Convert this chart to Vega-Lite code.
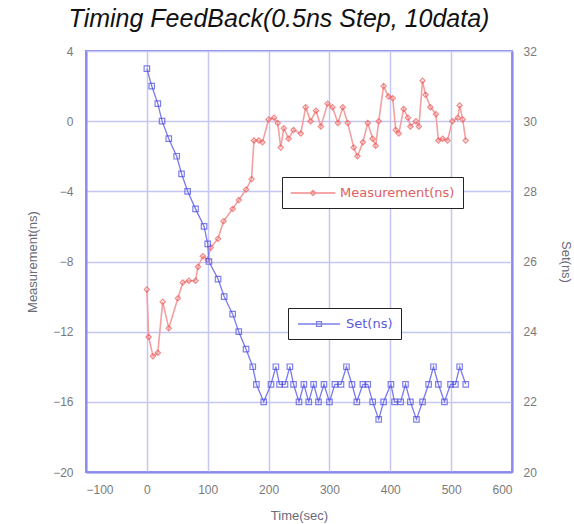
{
  "$schema": "https://vega.github.io/schema/vega-lite/v6.json",
  "width": 426,
  "height": 421,
  "autosize": {"type": "none"},
  "padding": {"left": 86, "top": 51, "right": 62, "bottom": 52},
  "background": "white",
  "title": {
    "text": "Timing FeedBack(0.5ns Step, 10data)",
    "font": "Liberation Sans",
    "fontSize": 25,
    "fontStyle": "italic",
    "fontWeight": "normal",
    "color": "#111111",
    "anchor": "middle",
    "offset": 13,
    "dx": -20
  },
  "config": {
    "view": {"stroke": "#8a8aee", "strokeWidth": 2},
    "axis": {
      "labelFont": "Liberation Sans",
      "labelFontSize": 12,
      "labelColor": "#7a7a7a",
      "titleFont": "Liberation Sans",
      "titleFontSize": 13,
      "titleFontWeight": "normal",
      "titleColor": "#6a6a7a",
      "domainColor": "#8a8aee",
      "domainWidth": 2,
      "ticks": false,
      "gridColor": "#c6c6f2",
      "gridWidth": 1.5
    }
  },
  "datasets": {
    "meas": [
      {"t": 0, "v": -9.6}, {"t": 3, "v": -12.3}, {"t": 10, "v": -13.4}, {"t": 18, "v": -13.2},
      {"t": 26, "v": -10.3}, {"t": 36, "v": -11.8}, {"t": 51, "v": -10.1}, {"t": 59, "v": -9.2},
      {"t": 69, "v": -9.1}, {"t": 80, "v": -9.1}, {"t": 84, "v": -8.3}, {"t": 92, "v": -7.7},
      {"t": 100, "v": -7.9}, {"t": 105, "v": -7.2}, {"t": 117, "v": -6.7}, {"t": 126, "v": -5.7},
      {"t": 141, "v": -5.0}, {"t": 151, "v": -4.5}, {"t": 163, "v": -3.9}, {"t": 172, "v": -3.3},
      {"t": 176, "v": -1.1}, {"t": 184, "v": -1.1}, {"t": 190, "v": -1.2}, {"t": 200, "v": 0.1},
      {"t": 209, "v": 0.2}, {"t": 215, "v": -0.1}, {"t": 220, "v": -1.5}, {"t": 225, "v": -0.4},
      {"t": 233, "v": -1.0}, {"t": 241, "v": -0.5}, {"t": 253, "v": -0.7}, {"t": 261, "v": 0.8},
      {"t": 269, "v": 0.0}, {"t": 278, "v": 0.6}, {"t": 286, "v": -0.3}, {"t": 297, "v": 1.0},
      {"t": 305, "v": 0.8}, {"t": 314, "v": -0.1}, {"t": 322, "v": 0.8}, {"t": 330, "v": -0.1},
      {"t": 340, "v": -1.5}, {"t": 346, "v": -2.0}, {"t": 355, "v": -1.2}, {"t": 363, "v": -0.1},
      {"t": 371, "v": -1.0}, {"t": 376, "v": -1.4}, {"t": 381, "v": 0.0}, {"t": 389, "v": 2.0},
      {"t": 397, "v": 1.4}, {"t": 404, "v": 1.3}, {"t": 409, "v": -0.5}, {"t": 414, "v": -0.7},
      {"t": 422, "v": 0.7}, {"t": 429, "v": 0.2}, {"t": 433, "v": -0.3}, {"t": 442, "v": 0.0},
      {"t": 447, "v": -0.3}, {"t": 453, "v": 2.3}, {"t": 458, "v": 1.5}, {"t": 466, "v": 0.8},
      {"t": 475, "v": 0.4}, {"t": 479, "v": -1.1}, {"t": 486, "v": -1.0}, {"t": 494, "v": -1.1},
      {"t": 502, "v": 0.0}, {"t": 511, "v": 0.2}, {"t": 514, "v": 0.9}, {"t": 519, "v": 0.1},
      {"t": 524, "v": -1.1}
    ],
    "set": [
      {"t": 0, "s": 31.5}, {"t": 8, "s": 31.0}, {"t": 18, "s": 30.5}, {"t": 25, "s": 30.0},
      {"t": 36, "s": 29.5}, {"t": 49, "s": 29.0}, {"t": 57, "s": 28.5}, {"t": 67, "s": 28.0},
      {"t": 80, "s": 27.5}, {"t": 94, "s": 27.0}, {"t": 100, "s": 26.5}, {"t": 102, "s": 26.0},
      {"t": 117, "s": 25.5}, {"t": 127, "s": 25.0}, {"t": 141, "s": 24.5}, {"t": 151, "s": 24.0},
      {"t": 163, "s": 23.5}, {"t": 174, "s": 23.0}, {"t": 180, "s": 22.5}, {"t": 192, "s": 22.0},
      {"t": 204, "s": 22.5}, {"t": 212, "s": 23.0}, {"t": 218, "s": 22.5}, {"t": 227, "s": 22.5},
      {"t": 235, "s": 23.0}, {"t": 241, "s": 22.5}, {"t": 250, "s": 22.0}, {"t": 258, "s": 22.5},
      {"t": 266, "s": 22.0}, {"t": 274, "s": 22.5}, {"t": 282, "s": 22.0}, {"t": 291, "s": 22.5},
      {"t": 300, "s": 22.0}, {"t": 309, "s": 22.5}, {"t": 319, "s": 22.5}, {"t": 328, "s": 23.0},
      {"t": 337, "s": 22.5}, {"t": 345, "s": 22.0}, {"t": 355, "s": 22.5}, {"t": 363, "s": 22.5},
      {"t": 371, "s": 22.0}, {"t": 381, "s": 21.5}, {"t": 389, "s": 22.0}, {"t": 401, "s": 22.5},
      {"t": 407, "s": 22.0}, {"t": 417, "s": 22.0}, {"t": 425, "s": 22.5}, {"t": 433, "s": 22.0},
      {"t": 443, "s": 21.5}, {"t": 453, "s": 22.0}, {"t": 463, "s": 22.5}, {"t": 471, "s": 23.0},
      {"t": 479, "s": 22.5}, {"t": 489, "s": 22.0}, {"t": 499, "s": 22.5}, {"t": 507, "s": 22.5},
      {"t": 514, "s": 23.0}, {"t": 524, "s": 22.5}
    ]
  },
  "encoding": {
    "x": {
      "field": "t",
      "type": "quantitative",
      "scale": {"domain": [-100, 600], "nice": false, "zero": false},
      "axis": {
        "title": "Time(sec)",
        "values": [-100, 0, 100, 200, 300, 400, 500, 600],
        "labelPadding": 12,
        "titlePadding": 14
      }
    }
  },
  "layer": [
    {
      "data": {"name": "meas"},
      "encoding": {
        "y": {
          "field": "v",
          "type": "quantitative",
          "scale": {"domain": [-20, 4], "nice": false, "zero": false},
          "axis": {
            "title": "Measurement(ns)",
            "orient": "left",
            "values": [-20, -16, -12, -8, -4, 0, 4],
            "labelPadding": 13,
            "titlePadding": 13
          }
        }
      },
      "layer": [
        {"mark": {"type": "line", "color": "#f2a0a0", "strokeWidth": 1.6}, "encoding": {}},
        {
          "mark": {"type": "point", "shape": "diamond", "filled": false, "size": 28, "strokeWidth": 1.2},
          "encoding": {
            "stroke": {
              "datum": "Measurement(ns)",
              "scale": {"range": ["#ee5a5a"]},
              "legend": {
                "title": null,
                "orient": "none",
                "legendX": 196,
                "legendY": 126,
                "padding": 8,
                "labelFont": "DejaVu Sans",
                "labelFontSize": 13,
                "labelColor": "#e06060",
                "labelOffset": 19,
                "symbolOffset": 15,
                "strokeColor": "#222222",
                "fillColor": "white",
                "symbolType": "M-3.2,0H3.2M-0.37,0L0,-0.37L0.37,0L0,0.37Z",
                "symbolSize": 196,
                "symbolStrokeWidth": 1.3,
                "symbolFillColor": "transparent",
                "encode": {
                  "legend": {"update": {"strokeWidth": {"value": 2}}}
                }
              }
            }
          }
        }
      ]
    },
    {
      "data": {"name": "set"},
      "encoding": {
        "y": {
          "field": "s",
          "type": "quantitative",
          "scale": {"domain": [20, 32], "nice": false, "zero": false},
          "axis": {
            "title": "Set(ns)",
            "orient": "right",
            "values": [20, 22, 24, 26, 28, 30, 32],
            "grid": false,
            "labelPadding": 11,
            "titlePadding": 22
          }
        }
      },
      "layer": [
        {"mark": {"type": "line", "color": "#7a7aee", "strokeWidth": 1.3}, "encoding": {}},
        {
          "mark": {"type": "point", "shape": "square", "filled": false, "size": 30, "strokeWidth": 1.2},
          "encoding": {
            "stroke": {
              "datum": "Set(ns)",
              "scale": {"range": ["#4a4ae0"]},
              "legend": {
                "title": null,
                "orient": "none",
                "legendX": 202,
                "legendY": 257,
                "padding": 8,
                "labelFont": "DejaVu Sans",
                "labelFontSize": 13,
                "labelColor": "#5a5ad8",
                "labelOffset": 19,
                "symbolOffset": 15,
                "strokeColor": "#222222",
                "fillColor": "white",
                "symbolType": "M-3,0H3M-0.35,-0.35H0.35V0.35H-0.35Z",
                "symbolSize": 196,
                "symbolStrokeWidth": 1.3,
                "symbolFillColor": "transparent",
                "encode": {
                  "legend": {"update": {"strokeWidth": {"value": 2}}}
                }
              }
            }
          }
        }
      ]
    }
  ],
  "resolve": {"scale": {"y": "independent", "stroke": "independent"}}
}
